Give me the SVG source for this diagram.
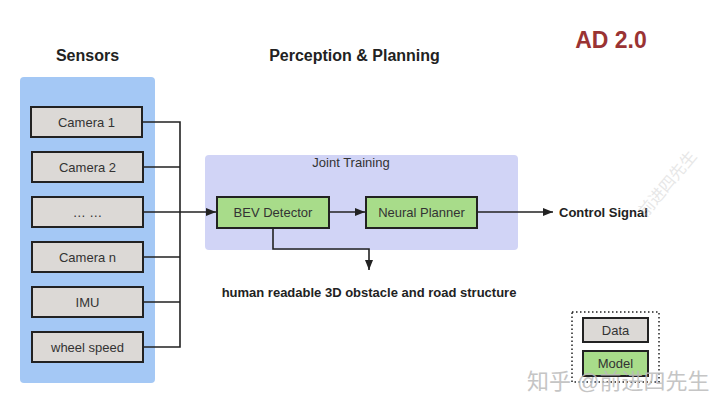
<svg xmlns="http://www.w3.org/2000/svg" width="720" height="408" viewBox="0 0 720 408">
<defs>
<style>
text{font-family:"Liberation Sans",Arial,sans-serif;}
.box{fill:#dcd9d6;stroke:#222;stroke-width:2;}
.model{fill:#a8dc8a;stroke:#222;stroke-width:2;}
.lbl{font-size:13px;fill:#333;text-anchor:middle;}
.hdr{font-size:16px;font-weight:bold;fill:#222;text-anchor:middle;}
.bold{font-size:13px;font-weight:bold;fill:#222;}
.ln{fill:none;stroke:#222;stroke-width:1.6;}
.wm{font-family:"Liberation Sans","Noto Sans CJK SC",sans-serif;fill:#bbb;}
</style>
<marker id="ah" markerWidth="10" markerHeight="8" refX="10" refY="4" orient="auto" markerUnits="userSpaceOnUse">
<path d="M0,0 L10,4 L0,8 Z" fill="#222"/>
</marker>
</defs>
<rect width="720" height="408" fill="#fff"/>
<text class="hdr" x="87.5" y="61">Sensors</text>
<text class="hdr" x="354.5" y="61">Perception &amp; Planning</text>
<text x="611" y="48" font-size="23" font-weight="bold" fill="#9a3333" text-anchor="middle">AD 2.0</text>
<g id="sensors-panel"><rect x="20" y="77" width="135" height="306" rx="4" fill="#a4c8f5"/></g>
<g id="joint-training"><rect x="205" y="155" width="313" height="95" rx="4" fill="#d1d4f6"/><text class="lbl" x="351" y="167" font-size="12">Joint Training</text></g>
<g id="camera1"><rect class="box" x="31" y="107" width="111" height="30"/><text class="lbl" x="86.5" y="127">Camera 1</text></g>
<g id="camera2"><rect class="box" x="32" y="152" width="111" height="30"/><text class="lbl" x="87.5" y="172">Camera 2</text></g>
<g id="dots"><rect class="box" x="32" y="197" width="111" height="30"/><text class="lbl" x="87.5" y="217">… …</text></g>
<g id="cameran"><rect class="box" x="32" y="242" width="111" height="30"/><text class="lbl" x="87.5" y="262">Camera n</text></g>
<g id="imu"><rect class="box" x="32" y="287" width="111" height="30"/><text class="lbl" x="87.5" y="307">IMU</text></g>
<g id="wheel"><rect class="box" x="32" y="332" width="111" height="30"/><text class="lbl" x="87.5" y="352">wheel speed</text></g>
<g id="bev"><rect class="model" x="217" y="197" width="112" height="31"/><text class="lbl" x="273" y="217">BEV Detector</text></g>
<g id="planner"><rect class="model" x="366" y="197" width="111" height="31"/><text class="lbl" x="421.5" y="217">Neural Planner</text></g>
<g id="control"><text class="bold" x="559" y="217">Control Signal</text></g>
<g id="human"><text class="bold" x="369" y="297" text-anchor="middle">human readable 3D obstacle and road structure</text></g>
<g id="connectors">
<path class="ln" d="M142,122 H180 V347 H143 M143,167 H180 M143,257 H180 M143,302 H180"/>
<path class="ln" d="M143,212 H216" marker-end="url(#ah)"/>
<path class="ln" d="M329,212 H365" marker-end="url(#ah)"/>
<path class="ln" d="M477,212 H553" marker-end="url(#ah)"/>
<path class="ln" d="M273,228 V249 H369 V270" marker-end="url(#ah)"/>
</g>
<g id="legend">
<rect x="572" y="312" width="87" height="70" fill="none" stroke="#222" stroke-width="1.5" stroke-dasharray="1.5,2.5"/>
<rect class="box" x="583" y="318" width="65" height="24"/><text class="lbl" x="615.5" y="335">Data</text>
<rect class="model" x="583" y="351" width="65" height="25"/><text class="lbl" x="615.5" y="368">Model</text>
</g>
<text class="wm" x="527" y="389" font-size="22" opacity="0.85">知乎 @前进四先生</text>
<text class="wm" x="0" y="0" font-size="16" opacity="0.35" transform="translate(646,218) rotate(-50)">前进四先生</text>
</svg>
